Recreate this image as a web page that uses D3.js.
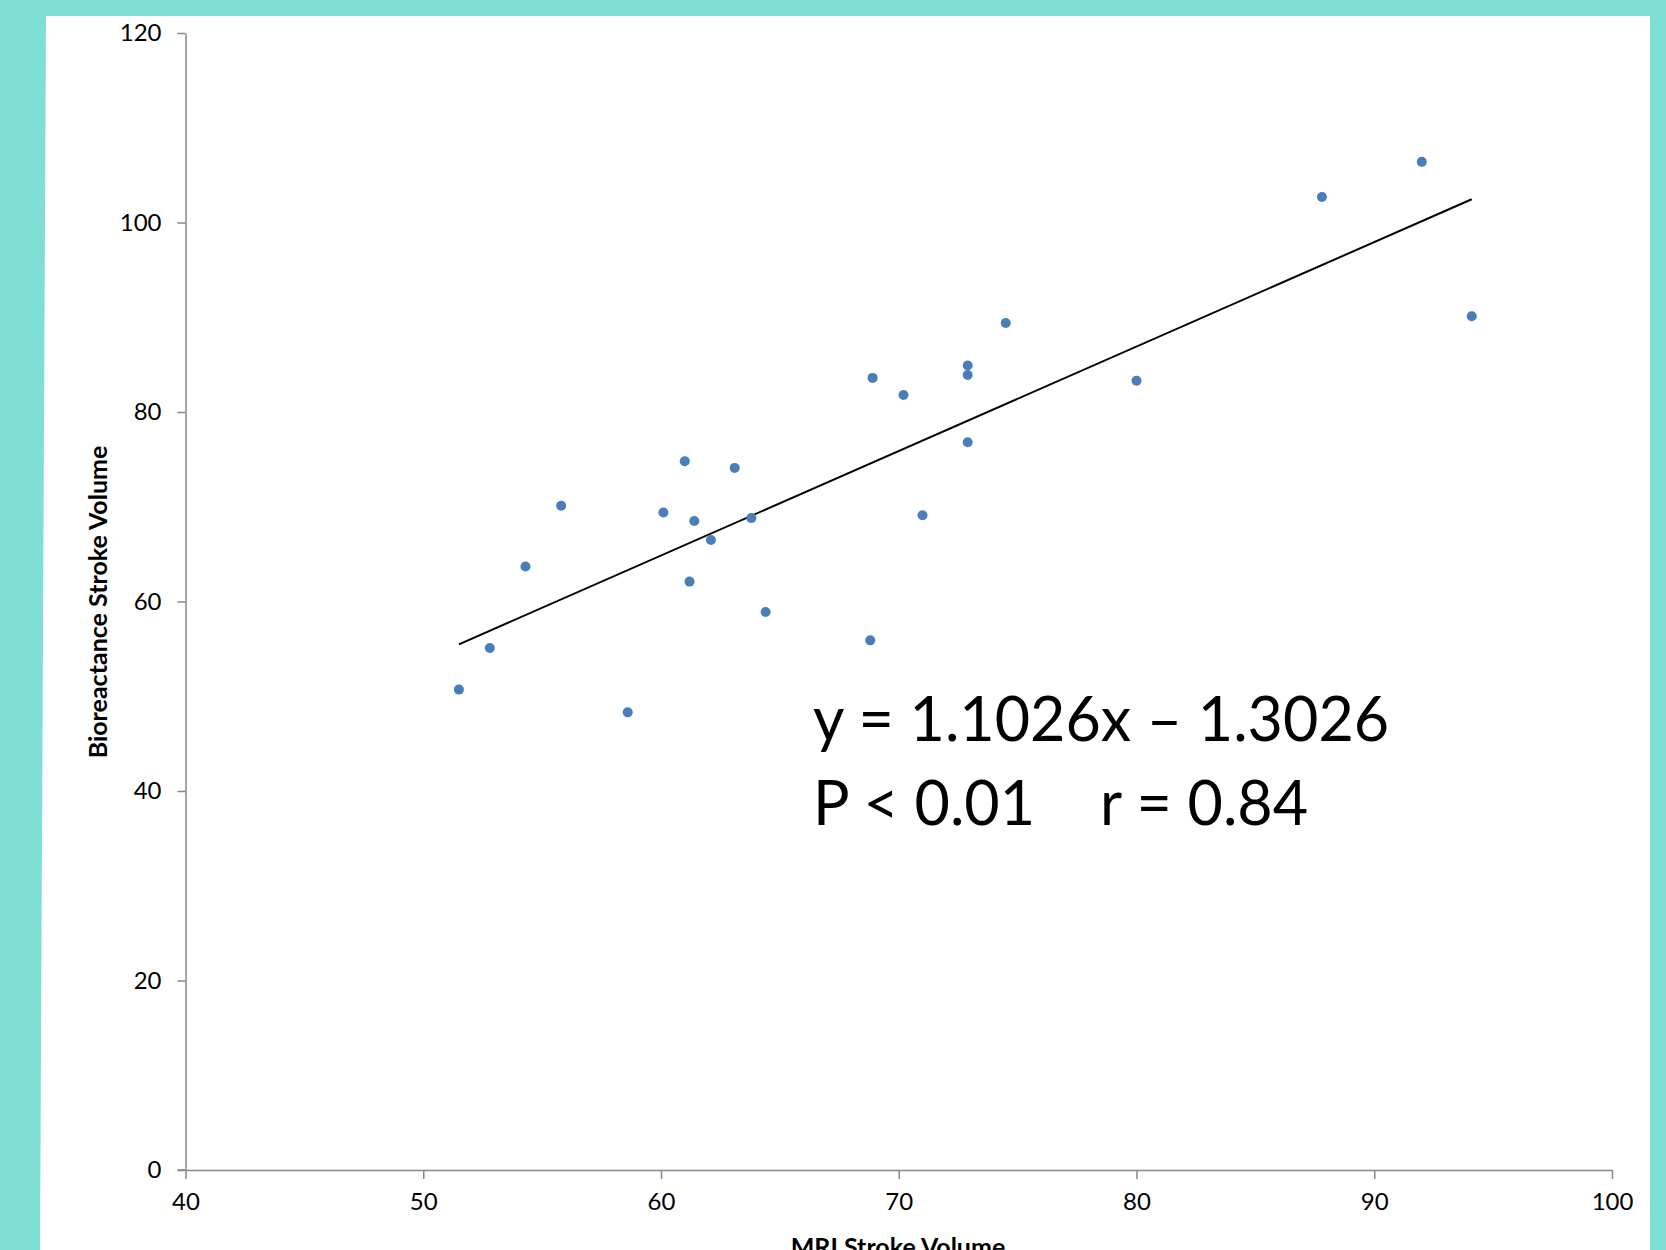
<!DOCTYPE html>
<html>
<head>
<meta charset="utf-8">
<script src="https://cdn.jsdelivr.net/npm/d3@7"></script>
<style>
  body { margin: 0; background: #7fdfd5; }
  text { font-family: Lato, "Open Sans", sans-serif; fill: #000; }
</style>
</head>
<body>
<div id="chart"></div>
<script>
var WIDTH = 1666, HEIGHT = 1250;

// MRI stroke volume (x) vs bioreactance stroke volume (y)
var mriSV = [51.5, 52.8, 54.3, 55.8, 58.6, 60.1, 61.0, 61.4, 61.2, 62.1, 63.1, 63.8, 64.4,
  68.8, 68.9, 70.2, 71.0, 72.9, 72.9, 72.9, 74.5, 80.0, 87.8, 92.0, 94.1];
var bioSV = [50.7, 55.1, 63.7, 70.1, 48.3, 69.4, 74.8, 68.5, 62.1, 66.5, 74.1, 68.8, 58.9,
  55.9, 83.6, 81.8, 69.1, 84.9, 83.9, 76.8, 89.4, 83.3, 102.7, 106.4, 90.1];

var xTicks = [40, 50, 60, 70, 80, 90, 100];
var yTicks = [0, 20, 40, 60, 80, 100, 120];

var slope = 1.1026, intercept = -1.3026;
var eqLine = 'y = 1.1026x \u2013 1.3026';
var statP = 'P < 0.01';
var statR = 'r = 0.84';

var svg = d3.select('#chart').append('svg')
  .attr('width', WIDTH)
  .attr('height', HEIGHT);

svg.append('rect')
  .attr('width', WIDTH).attr('height', HEIGHT)
  .attr('fill', '#7fdfd5');

// white page, slightly skewed like the photographed slide
svg.append('polygon')
  .attr('points', '46,16 1650,16 1650,1250 40,1250')
  .attr('fill', '#fff');

var x = d3.scaleLinear().domain([40, 100]).range([185.5, 1612]);
var y = d3.scaleLinear().domain([0, 120]).range([1170, 33]);

var axisColor = '#878787';

var xAxis = svg.append('g')
  .attr('transform', 'translate(0,' + y(0) + ')')
  .call(d3.axisBottom(x).tickValues(xTicks).tickSize(9).tickPadding(16).tickSizeOuter(0));

var yAxis = svg.append('g')
  .attr('transform', 'translate(' + x(40) + ',0)')
  .call(d3.axisLeft(y).tickValues(yTicks).tickSize(8).tickPadding(16).tickSizeOuter(0));

[xAxis, yAxis].forEach(function(ax) {
  ax.select('.domain').attr('stroke', axisColor).attr('stroke-width', 1.5);
  ax.selectAll('.tick line').attr('stroke', axisColor).attr('stroke-width', 1.5);
  ax.selectAll('.tick text')
    .attr('font-family', 'Lato, sans-serif')
    .attr('font-size', 24)
    .attr('fill', '#000');
});
xAxis.selectAll('.tick text').attr('dy', '0.62em');

// x axis line also extends to meet the y ticks on the left
svg.append('line')
  .attr('x1', x(40) - 8).attr('x2', x(40))
  .attr('y1', y(0)).attr('y2', y(0))
  .attr('stroke', axisColor).attr('stroke-width', 1.5);

svg.append('text')
  .attr('x', 898).attr('y', 1256)
  .attr('text-anchor', 'middle')
  .attr('font-size', 25)
  .attr('font-weight', 'bold')
  .text('MRI Stroke Volume');

svg.append('text')
  .attr('transform', 'translate(107,602) rotate(-90)')
  .attr('text-anchor', 'middle')
  .attr('font-size', 25)
  .attr('font-weight', 'bold')
  .text('Bioreactance Stroke Volume');

// trendline over the range of the data
var xMin = d3.min(mriSV), xMax = d3.max(mriSV);
svg.append('line')
  .attr('x1', x(xMin)).attr('y1', y(slope * xMin + intercept))
  .attr('x2', x(xMax)).attr('y2', y(slope * xMax + intercept))
  .attr('stroke', '#000')
  .attr('stroke-width', 2);

var points = mriSV.map(function(d, i) { return { x: d, y: bioSV[i] }; });

svg.append('g').selectAll('circle')
  .data(points)
  .enter()
  .append('circle')
  .attr('cx', function(d) { return x(d.x); })
  .attr('cy', function(d) { return y(d.y); })
  .attr('r', 5)
  .attr('fill', '#4a7ebb');

svg.append('text')
  .attr('x', 813).attr('y', 741)
  .attr('font-size', 61)
  .text(eqLine);

svg.append('text')
  .attr('x', 813).attr('y', 825)
  .attr('font-size', 61)
  .text(statP);

svg.append('text')
  .attr('x', 1100).attr('y', 825)
  .attr('font-size', 61)
  .text(statR);
</script>
</body>
</html>
